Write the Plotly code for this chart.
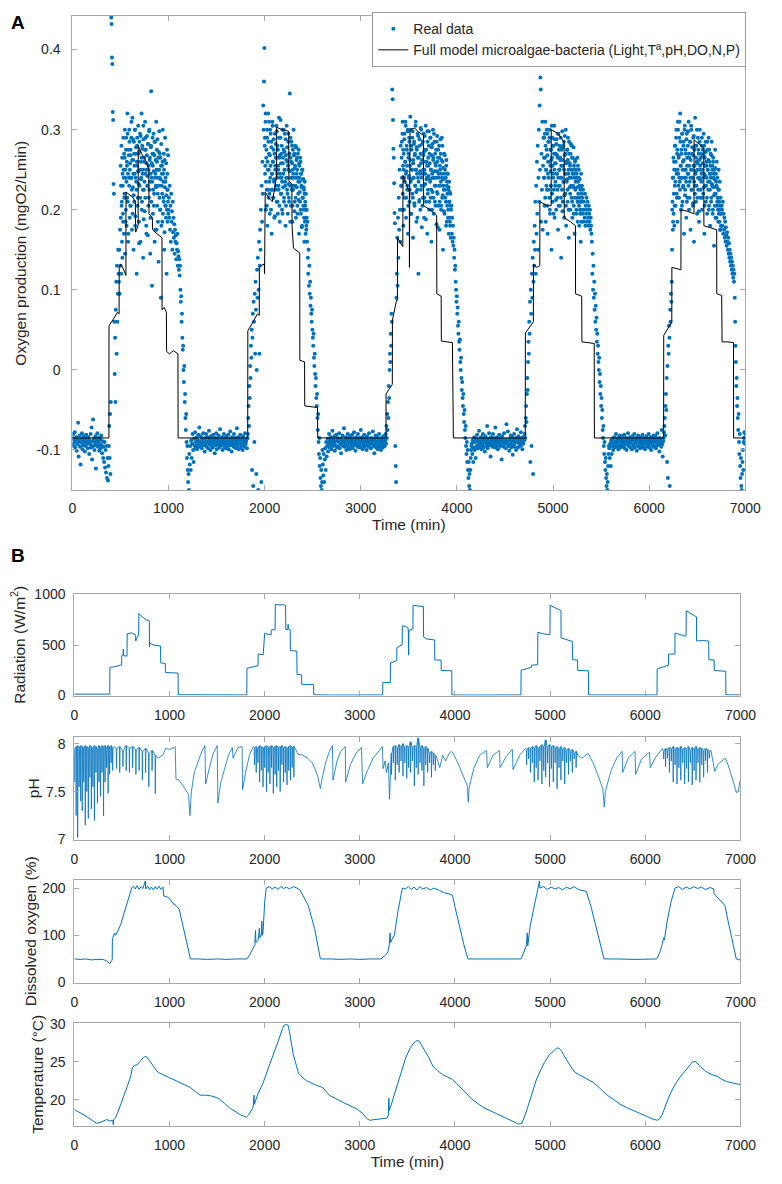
import plotly.graph_objects as go

# ---------------------------------------------------------------------------
# Panel A - measured oxygen production, in thousandths of mgO2/Lmin.
# Each block is sampled on a regular grid: (start minute, step in minutes).
# ---------------------------------------------------------------------------
night0_grid = (0, 5)
night0_real = [
    -85, -92, -80, -95, -88, -78, -97, -90, -84, -101,
    -87, -93, -66, -108, -89, -82, -96, -118, -86, -91,
    -79, -99, -88, -94, -83, -90, -102, -87, -95, -81,
    -92, -89, -98, -84, -91, -105, -88, -93, -80, -97,
    -72, -112, -89, -62, -95, -86, -100, -91, -83, -123,
    -94, -88, -79, -96, -90, -85, -101, -93, -87, -98,
    -82, -94, -104, -89, -110, -96, -115, -90, -122, -100,
    -128, -95, -135, -110, -138, -120,
]

day1_grid = (380, 4)
day1_real = [
    -95, -70, -110, -55, -130, -40, 440, 432, 390, 382, 322, 312, 232, 220, 60, -5,
    40, -40, 75, 110, 20, 130, 60, 95, 150, 120,
    110, 150, 95, 175, 130, 190, 120, 205, 160, 140, 230, 185, 250, 170, 215,
    265, 145, 240, 200, 290, 180, 255, 320, 210, 160, 275, 240, 300, 190, 258,
    268, 205, 290, 240, 175, 315, 228, 262, 150, 285,
    210, 245, 300, 192, 270, 235, 120, 280, 255, 215,
    305, 248, 185, 272, 230, 295, 160, 260, 240, 320,
    210, 276, 250, 140, 288, 225, 265, 198, 310, 245,
    275, 180, 258, 292, 230, 168, 282, 250, 215, 300,
    262, 235, 190, 278, 348, 240, 105, 270, 255, 225,
    295, 205, 268, 160, 285, 245, 230, 310, 175, 260,
    288, 220, 250, 135, 272, 298, 240, 200, 265, 90,
    282, 230, 255, 185, 300, 245, 215, 270, 150, 262,
    290, 235, 205, 258, 120, 275, 245, 225, 268, 200,
    215, 190, 230, 175, 205, 160, 220, 185, 198, 150, 210, 172, 190, 165, 182,
    145, 175, 160, 168, 138, 158, 150, 170, 130, 148, 142, 125, 138, 118, 130,
    100, 85, 92, 60, 70, 40, 25, 30, 0, -15, 5, -40, -30, -60, -75, -55,
    -90, -110, -95, -125, -140, -130, -150,
]
day1_extra_grid = (502, 4)
day1_extra = [
    255, 230, 280, 210, 265, 245, 195, 290, 240, 270,
    220, 300, 250, 185, 275, 235, 260, 215, 295, 245,
    170, 268, 230, 285, 250, 205, 275, 240, 310, 225,
    262, 195, 288, 245, 218, 270, 255, 300, 180, 240,
    278, 225, 260, 290, 205, 248, 270, 232, 158, 285,
    250, 215, 292, 238, 265, 200, 280, 245, 225, 305,
    188, 260, 235, 275, 215, 290, 250, 170, 268, 242,
    230, 282, 205, 255, 298, 225, 265, 145, 245, 280,
    210, 258, 235, 290, 195, 270, 248, 220, 285, 240,
    175, 262, 228, 250, 275, 205, 240, 185, 265, 230,
    250, 215, 270, 200, 238, 255, 180, 245, 220, 260,
    195, 235, 210, 250, 172, 228, 205, 240, 190, 218,
    200, 225, 185, 210, 195,
]

night1_grid = (1216, 5)
night1_real = [
    -105, -118, -95, -125, -88, -110, -92, -80, -100, -115,
    -86, -94, -78, -97, -90, -84, -99, -88, -93, -81,
    -96, -72, -89, -95, -83, -91, -98, -86, -90, -79,
    -94, -87, -102, -85, -92, -80, -96, -89, -84, -98,
    -91, -76, -93, -87, -100, -83, -95, -90, -86, -97,
    -81, -92, -88, -104, -85, -94, -79, -99, -90, -86,
    -93, -82, -97, -89, -74, -95, -88, -91, -84, -100,
    -87, -93, -80, -96, -90, -85, -98, -83, -92, -88,
    -95, -81, -99, -86, -91, -77, -94, -89, -102, -84,
    -92, -87, -96, -80, -93, -90, -85, -98, -88, -73,
    -95, -91, -84, -99, -87, -92, -81, -97, -89, -94,
    -86, -100, -83, -91, -88, -96, -79, -93, -90, -87,
    -98, -85,
]

day2_grid = (1825, 4)
day2_real = [
    -80, -60, -45, -70, -20, -35, 5, -10, 30, 15, 50, -125, 40, 70, -145, 85, 60, -90,
    95, 20, 110, 75, -130, 0, 125, 90, 140, -150, 100, 160, 20, 130, 175, 150,
    200, -140, 230, 185, 260, 220, 330, 300, 360,
    402, 280, 245, 310, 200, 265, 225, 290, 180, 250,
    320, 215, 270, 235, 195, 300, 255, 225, 285, 170,
    245, 310, 260, 215, 275, 235, 190, 295, 250, 225,
    265, 305, 210, 240, 280, 195, 255, 230, 315, 265,
    185, 245, 290, 220, 270, 240, 200, 300, 258, 228,
    275, 210, 250, 295, 235, 180, 268, 240, 305, 225,
    260, 195, 285, 250, 215, 270, 345, 230, 290, 205,
    260, 240, 280, 185, 250, 225, 300, 240, 270, 210,
    255, 230, 190, 278, 245, 265, 205, 240, 220, 275,
    170, 255, 235, 210, 260, 195, 245, 228, 180, 250,
    215, 238, 200, 225, 160, 235, 205, 190, 220, 175,
    200, 160, 185, 140, 120, 150, 105, 130, 95, 110, 80, 90, 70, 60, 75, 50,
    40, 30, 45, 15, 5, 20, -5, -20, -10, -35, -45, -30, -60, -75, -55, -90,
    -105, -85, -120, -110, -135, -145, -125, -150, -140, -100,
]
day2_extra_grid = (2002, 4)
day2_extra = [
    290, 255, 320, 235, 275, 205, 300, 260, 225, 285,
    250, 310, 220, 268, 240, 295, 200, 278, 245, 225,
    305, 260, 215, 288, 238, 270, 192, 255, 282, 230,
    265, 298, 245, 210, 275, 250, 225, 290, 205, 268,
    240, 312, 258, 220, 280, 235, 195, 265, 245, 300,
    215, 272, 250, 230, 288, 205, 262, 240, 278, 220,
    255, 295, 232, 210, 270, 248, 185, 265, 240, 285,
    225, 258, 205, 275, 245, 230, 268, 198, 252, 280,
    215, 240, 262, 228, 250, 195, 270, 235, 212, 258,
    240, 222, 265, 200, 245, 230, 178, 250, 215, 238,
    205, 228, 190, 220, 185, 210, 170, 200, 180, 190,
]

night2_grid = (2605, 5)
night2_real = [
    -118, -132, -105, -140, -112, -98, -125, -90, -108, -95,
    -86, -102, -91, -80, -97, -88, -93, -84, -99, -90,
    -76, -95, -87, -92, -83, -101, -89, -94, -81, -97,
    -88, -85, -96, -90, -79, -98, -86, -93, -104, -87,
    -91, -82, -95, -89, -73, -96, -88, -92, -84, -100,
    -87, -94, -80, -97, -90, -86, -99, -83, -92, -88,
    -95, -81, -98, -86, -91, -78, -94, -89, -101, -84,
    -92, -87, -96, -80, -93, -90, -85, -97, -88, -75,
    -95, -91, -84, -99, -87, -92, -81, -96, -89, -94,
    -86, -100, -83, -91, -88, -96, -79, -93, -90, -87,
    -98, -85, -92, -89, -77, -95, -88, -104, -86, -93,
    -82, -97, -90, -84, -99, -88, -94, -80, -96, -91,
    -87, -100, -85, -93, -89, -97, -83, -92, -88, -95,
]

day3_grid = (3255, 4)
day3_real = [
    -88, -80, -92, -70, -85, -55, -75, -40, -60, -20, -35, 0, 20, 10, 45, 30, 70, 60,
    350, 338, 312, 276, 265, 233, 196, 183, -95, -120, -140, 90,
    120, 165, 105, 190, 140, 215, 175, 250, 200, 160, 280, 230,
    230, 285, 200, 310, 255, 180, 270, 240, 295, 215,
    260, 305, 190, 248, 275, 225, 300, 170, 265, 240,
    290, 210, 255, 316, 235, 195, 280, 250, 220, 298,
    165, 262, 240, 285, 205, 270, 230, 310, 250, 185,
    275, 225, 295, 240, 120, 265, 210, 288, 245, 200,
    302, 258, 230, 178, 282, 245, 215, 268, 295, 190,
    250, 275, 232, 305, 210, 260, 240, 170, 285, 225,
    255, 298, 200, 270, 238, 290, 215, 250, 160, 278,
    245, 222, 300, 265, 195, 240, 285, 210, 258, 230,
    275, 182, 248, 292, 220, 265, 205, 240, 280, 175,
    255, 230, 270, 200, 245, 290, 215, 260, 150, 238,
    225, 270, 195, 250, 215, 240, 180, 262, 230, 205,
    245, 190, 225, 170, 235, 210, 185, 220, 165, 200,
    205, 170, 190, 160, 180, 155, 165, 140, 150, 125, 130, 110,
    100, 85, 92, 70, 78, 55, 45, 60, 35, 25, 38, 10, 0, 15, -10, -25,
    -15, -35, -45, -30, -55, -65, -50, -75, -85, -70, -95, -105, -90, -115,
    -100, -125, -135, -115, -145, -130, -150, -125, -110, -100, -95,
]
day3_extra_grid = (3425, 4)
day3_extra = [
    265, 240, 295, 220, 275, 250, 200, 288, 235, 260,
    310, 245, 215, 280, 255, 230, 298, 205, 270, 242,
    285, 225, 262, 300, 238, 195, 275, 250, 290, 215,
    258, 240, 282, 208, 268, 230, 305, 250, 222, 278,
    245, 190, 265, 292, 235, 255, 212, 280, 248, 270,
    225, 300, 240, 262, 205, 285, 250, 230, 272, 215,
    292, 245, 260, 188, 275, 238, 255, 298, 220, 265,
    242, 280, 210, 258, 235, 290, 250, 225, 268, 200,
    282, 240, 262, 215, 295, 248, 230, 270, 205, 255,
    240, 285, 222, 260, 178, 275, 245, 230, 265, 210,
    250, 288, 235, 205, 262, 240, 280, 218, 252, 230,
    198, 245, 268, 225, 240, 210, 255, 185, 235, 220,
    245, 200, 228, 210, 190, 222, 180, 205,
]

night3_grid = (4155, 5)
night3_real = [
    -92, -105, -88, -115, -97, -84, -100, -90, -110, -86,
    -95, -81, -98, -89, -93, -76, -96, -87, -91, -84,
    -99, -88, -94, -80, -97, -90, -86, -102, -83, -92,
    -88, -95, -70, -98, -86, -91, -79, -94, -89, -108,
    -84, -92, -87, -96, -80, -93, -90, -85, -97, -72,
    -88, -95, -91, -84, -99, -87, -92, -81, -96, -89,
    -94, -86, -112, -83, -91, -88, -96, -79, -93, -90,
    -87, -98, -68, -92, -89, -77, -95, -88, -101, -86,
    -93, -82, -97, -90, -84, -106, -88, -94, -80, -96,
    -91, -87, -100, -85, -74, -89, -97, -83, -92, -88,
    -95, -86, -78, -94, -90, -99, -84, -92, -87,
]

day4_grid = (4700, 4)
day4_real = [
    -88, -80, -70, -85, -60, -45, -65, -30, -10, -25, 10, 35, 20, 60, 45, 85,
    -115, 100, 70, -95, 120, 90, 140, -130, 110, 160,
    130, 180, 150, 210, 120, 230, 170, 260, 195, 280, 150, 240, 300,
    210, 330, 250, 365, 350, 185, 270, 225, 310, 175, 255, 290,
    240, 290, 205, 265, 310, 185, 250, 275, 225, 295,
    170, 260, 240, 285, 215, 300, 195, 255, 230, 275,
    150, 265, 290, 210, 245, 280, 225, 305, 190, 258,
    235, 270, 200, 288, 245, 215, 265, 175, 295, 230,
    250, 280, 205, 262, 240, 140, 275, 225, 298, 210,
    255, 235, 285, 190, 268, 245, 220, 300, 180, 260,
    238, 275, 210, 290, 250, 165, 270, 228, 255, 200,
    282, 240, 215, 265, 190, 250, 230, 278, 205, 245,
    170, 260, 225, 250, 195, 240, 215, 265, 185, 235,
    210, 250, 180, 238, 200, 225, 160, 245, 210, 230,
    215, 195, 225, 185, 210, 200, 190, 220, 180, 205, 195, 215, 185,
    200, 210, 190, 180, 205, 195, 185, 200, 175, 190, 180, 170,
    160, 120, 145, 100, 130, 90, 110, 75, 95, 60, 80, 50, 65, 35, 45,
    20, 30, 10, 0, 15, -15, -5, -30, -20, -45, -35, -60, -50, -75, -85,
    -70, -95, -105, -90, -115, -125, -110, -135, -145, -130, -150, -140, -120, -105, -95,
]
day4_extra_grid = (4906, 4)
day4_extra = [
    265, 240, 295, 215, 280, 250, 230, 300, 205, 268,
    245, 285, 225, 260, 290, 200, 275, 248, 230, 262,
    305, 220, 255, 280, 240, 195, 270, 250, 288, 230,
    258, 212, 282, 245, 268, 225, 295, 240, 205, 275,
    250, 230, 265, 290, 215, 255, 240, 278, 198, 262,
    280, 235, 250, 218, 292, 245, 270, 205, 258, 235,
    275, 225, 262, 245, 200, 285, 240, 258, 220, 270,
    230, 250, 280, 210, 245, 265, 228, 195, 255, 240,
    215, 262, 235, 250, 200, 245, 228, 210, 255, 220,
    240, 205, 230, 215, 195, 228, 210, 185, 220, 200,
]

night4_grid = (5585, 5)
night4_real = [
    -98, -110, -92, -120, -88, -105, -95, -86, -100, -91,
    -84, -97, -89, -93, -80, -96, -88, -91, -85, -99,
    -87, -94, -82, -97, -90, -86, -95, -83, -92, -88,
    -96, -81, -98, -89, -93, -85, -100, -87, -91, -79,
    -95, -88, -92, -84, -97, -90, -86, -99, -83, -93,
    -88, -95, -80, -97, -89, -91, -85, -101, -87, -94,
    -82, -96, -90, -86, -98, -84, -92, -88, -95, -81,
    -97, -89, -93, -85, -99, -87, -91, -83, -96, -90,
    -86, -94, -80, -97, -88, -92, -84, -100, -89, -93,
    -85, -96, -82, -90, -87, -95, -83, -98, -88, -91,
    -79, -94, -90, -86, -102, -85, -92, -88, -96, -75,
    -93, -108, -89,
]

day5_grid = (6150, 4)
day5_real = [
    -85, -78, -70, -60, -82, -45, -30, -50, -10, -115, 5, -135, 30, 20, 55,
    40, -145, 75, 60, 95, 85, 110,
    150, 210, 175, 240, 195, 260, 180, 230, 280, 205,
    250, 300, 220, 270, 185, 310, 245, 265, 215, 290,
    235, 320, 255, 200, 275, 240, 295, 210, 260, 230,
    285, 170, 250, 305, 225, 270, 240, 190, 295, 255,
    215, 280, 245, 310, 200, 265, 235, 285, 175, 250,
    300, 225, 270, 240, 205, 290, 255, 160, 275, 230,
    315, 245, 210, 280, 260, 195, 250, 290, 225, 270,
    185, 240, 300, 255, 215, 265, 235, 280, 200, 250,
    275, 220, 295, 245, 170, 265, 230, 285, 210, 255,
    240, 195, 275, 250, 225, 290, 205, 260, 235, 180,
    270, 245, 215, 285, 230, 255, 200, 265, 240, 155,
    250, 220, 275, 190, 245, 230, 260, 205, 240, 215,
    185, 250, 225, 200, 235, 175, 215, 195, 180, 205,
    200, 180, 210, 170, 195, 175, 190, 165, 185, 160, 178, 168, 155, 172, 160,
    150, 165, 145, 158, 140, 150, 135, 145, 130, 140, 125, 135, 120, 130, 115,
    125, 110, 120,
    90, 60, 30, 10, -20, -10, -45, -35, -60, -75, -55, -90, -105, -80, -120,
    -135, -110, -145, -150, -130, -115, -100, -125, -90, -85, -78, -92, -80,
]
day5_extra_grid = (6240, 4)
day5_extra = [
    200, 240, 185, 265, 220, 250, 205, 280, 235, 260,
    290, 245, 215, 275, 250, 300, 230, 268, 240, 310,
    225, 285, 255, 240, 270, 205, 295, 250, 228, 280,
    262, 240, 300, 218, 275, 250, 235, 288, 210, 265,
    245, 298, 230, 270, 255, 215, 285, 240, 262, 305,
    225, 250, 278, 240, 208, 268, 292, 235, 255, 220,
    280, 248, 265, 230, 300, 215, 258, 240, 275, 198,
    262, 285, 238, 250, 225, 270, 245, 290, 215, 258,
    240, 268, 228, 280, 205, 255, 242, 272, 230, 260,
    215, 285, 250, 235, 262, 200, 275, 245, 225, 255,
    240, 210, 268, 232, 250, 195, 260, 228, 245, 218,
    238, 205, 252, 220, 235, 190, 228, 210, 215, 200,
    225, 195, 210, 185, 205, 175, 195, 180,
]

# Model output (mgO2/Lmin): breakpoints (minute, value)
model_day1 = [
    (0, -0.085), (380, -0.085), (381, 0.055), (410, 0.06), (440, 0.066), (470, 0.072),
    (486, 0.07), (487, 0.128), (505, 0.132), (530, 0.126), (557, 0.118), (558, 0.222),
    (590, 0.219), (625, 0.216), (655, 0.21), (658, 0.172), (684, 0.18), (685, 0.28),
    (720, 0.27), (760, 0.262), (795, 0.25), (797, 0.195), (832, 0.19), (834, 0.175),
    (860, 0.172), (900, 0.168), (932, 0.165), (933, 0.075), (955, 0.078), (978, 0.072),
    (980, 0.023), (1010, 0.02), (1050, 0.024), (1098, 0.02), (1100, -0.085),
]
model_day2 = [
    (1824, -0.085), (1825, 0.049), (1870, 0.058), (1925, 0.07), (1944, 0.068),
    (1945, 0.128), (1970, 0.131), (1996, 0.132), (1999, 0.12), (2006, 0.222),
    (2040, 0.215), (2080, 0.21), (2115, 0.235), (2124, 0.24), (2125, 0.303),
    (2180, 0.3), (2250, 0.298), (2252, 0.236), (2283, 0.232), (2285, 0.18),
    (2300, 0.152), (2340, 0.148), (2365, 0.146), (2366, 0.012), (2415, 0.01),
    (2417, -0.045), (2480, -0.046), (2550, -0.047), (2552, -0.085),
]
model_day3 = [
    (3262, -0.085), (3263, -0.03), (3300, -0.024), (3328, -0.018), (3329, 0.062),
    (3372, 0.087), (3381, 0.087), (3382, 0.165), (3437, 0.154), (3439, 0.243),
    (3505, 0.222), (3506, 0.128), (3512, 0.3), (3560, 0.302), (3600, 0.297),
    (3652, 0.293), (3654, 0.205), (3720, 0.2), (3789, 0.193), (3791, 0.095),
    (3836, 0.092), (3838, 0.036), (3900, 0.035), (3953, 0.034), (3963, -0.085),
]
model_day4 = [
    (4711, -0.085), (4712, 0.046), (4760, 0.055), (4795, 0.06), (4796, 0.132),
    (4830, 0.128), (4862, 0.13), (4863, 0.21), (4940, 0.205), (4980, 0.205),
    (4981, 0.3), (5050, 0.295), (5115, 0.285), (5116, 0.19), (5180, 0.185),
    (5233, 0.18), (5234, 0.095), (5298, 0.092), (5300, 0.035), (5360, 0.034),
    (5428, 0.033), (5430, -0.085),
]
model_day5 = [
    (6150, -0.085), (6151, 0.043), (6200, 0.052), (6235, 0.06), (6236, 0.128),
    (6285, 0.126), (6330, 0.125), (6331, 0.2), (6400, 0.198), (6466, 0.195),
    (6467, 0.287), (6520, 0.282), (6568, 0.277), (6569, 0.18), (6630, 0.178),
    (6702, 0.175), (6703, 0.095), (6754, 0.093), (6758, 0.035), (6820, 0.035),
    (6877, 0.034), (6878, -0.085), (7000, -0.085),
]

# ---------------------------------------------------------------------------
# Panel B - environmental variables, breakpoints (minute, value)
# ---------------------------------------------------------------------------
radiation = [
    (0, 14), (100, 16), (200, 13), (300, 15), (372, 14), (374, 280), (420, 285),
    (485, 300), (497, 300), (499, 395), (512, 400), (515, 460), (518, 395), (553, 390),
    (556, 612), (600, 620), (644, 600), (646, 540), (652, 560), (676, 600), (678, 812),
    (700, 790), (729, 765), (760, 745), (780, 748), (788, 740), (790, 480), (792, 520),
    (830, 500), (870, 495), (906, 490), (908, 322), (956, 318), (958, 228), (1020, 225),
    (1090, 222), (1092, 8), (1300, 6), (1500, 5), (1700, 7), (1812, 6),
    (1814, 270), (1860, 280), (1898, 290), (1930, 295), (1932, 410), (1983, 400),
    (1985, 405), (2000, 615), (2040, 605), (2068, 600), (2070, 648), (2100, 655),
    (2110, 652), (2112, 903), (2160, 895), (2190, 900), (2220, 890), (2222, 655),
    (2244, 650), (2246, 705), (2250, 660), (2268, 650), (2270, 445), (2338, 440),
    (2340, 208), (2388, 205), (2390, 112), (2514, 108), (2516, 8), (2700, 5),
    (2900, 6), (3100, 5), (3240, 6),
    (3242, 130), (3300, 132), (3320, 130), (3322, 322), (3380, 342), (3388, 345),
    (3390, 474), (3430, 500), (3445, 505), (3447, 690), (3480, 685), (3505, 672),
    (3510, 640), (3513, 400), (3516, 640), (3530, 650), (3558, 660), (3560, 893),
    (3620, 885), (3668, 880), (3670, 580), (3700, 560), (3786, 550), (3788, 352),
    (3854, 350), (3856, 248), (3966, 245), (3968, 6), (4200, 5), (4400, 6),
    (4600, 5), (4693, 6),
    (4695, 250), (4760, 270), (4803, 280), (4805, 300), (4869, 305), (4871, 626),
    (4930, 610), (4990, 603), (4998, 605), (5000, 893), (5050, 870), (5108, 845),
    (5114, 840), (5115, 571), (5170, 555), (5227, 539), (5233, 535), (5234, 355),
    (5288, 352), (5290, 248), (5402, 245), (5404, 6), (5600, 5), (5800, 6),
    (6000, 5), (6123, 6),
    (6125, 264), (6180, 280), (6237, 297), (6243, 300), (6244, 410), (6305, 408),
    (6311, 410), (6312, 619), (6370, 600), (6420, 587), (6428, 590), (6430, 839),
    (6480, 810), (6532, 781), (6538, 778), (6539, 539), (6600, 545), (6658, 540),
    (6666, 538), (6668, 355), (6719, 352), (6723, 350), (6725, 248), (6837, 245),
    (6845, 240), (6847, 8), (6920, 5), (7000, 6),
]

# pH: daytime downward spikes (CO2 dosing), alternating peak / trough values,
# one spike per period: ((first peak minute, period), values)
ph_teeth_day1 = ((0, 16), [
    7.95, 7.6, 7.97, 7.25, 7.98, 7.02, 7.96, 7.55, 7.98, 7.4, 7.97, 7.3, 7.96, 7.6,
    7.98, 7.15, 7.97, 7.5, 7.95, 7.22, 7.98, 7.65, 7.97, 7.32, 7.96, 7.55, 7.98, 7.2,
    7.97, 7.7, 7.95, 7.38, 7.98, 7.6, 7.96, 7.45, 7.98, 7.7, 7.97, 7.25, 7.98, 7.6,
    7.95, 7.75, 7.98, 7.48, 7.97, 7.68, 7.98, 7.8, 7.96, 7.72, 7.97,
])
ph_teeth_day1b = ((440, 34), [
    7.95, 7.74, 7.97, 7.7, 7.93, 7.76, 7.98, 7.72, 7.95, 7.7, 7.97, 7.75, 7.94, 7.68,
    7.96, 7.72, 7.92, 7.62, 7.95, 7.7, 7.9, 7.55, 7.93, 7.72, 7.88, 7.48, 7.85,
])
ph_teeth_day2 = ((1890, 18), [
    7.96, 7.78, 7.97, 7.7, 7.95, 7.8, 7.98, 7.6, 7.97, 7.72, 7.96, 7.55, 7.97, 7.75,
    7.98, 7.5, 7.96, 7.7, 7.97, 7.58, 7.98, 7.75, 7.96, 7.48, 7.97, 7.68, 7.98, 7.55,
    7.96, 7.72, 7.97, 7.5, 7.98, 7.78, 7.96, 7.6, 7.97, 7.7, 7.95, 7.57, 7.97, 7.72,
    7.98, 7.62, 7.96, 7.75, 7.97, 7.65, 7.95,
])
ph_teeth_day3 = ((3330, 20), [
    7.9, 7.68, 7.97, 7.8, 7.98, 7.62, 7.96, 7.78, 7.99, 7.7, 7.97, 7.82, 8.0, 7.66,
    7.96, 7.8, 7.98, 7.64, 7.97, 7.75, 8.02, 7.7, 7.96, 7.82, 7.98, 7.56, 7.97, 7.75,
    8.06, 7.68, 7.96, 7.8, 7.98, 7.72, 7.95, 7.56, 7.97, 7.78, 7.95, 7.7, 7.9, 7.8,
    7.92, 7.65, 7.9, 7.78, 7.88, 7.72, 7.85,
])
ph_teeth_day4 = ((4750, 20), [
    7.94, 7.78, 7.96, 7.84, 7.95, 7.7, 7.97, 7.8, 7.96, 7.6, 7.98, 7.75, 7.95, 7.62,
    7.97, 7.82, 7.99, 7.58, 7.97, 7.72, 8.04, 7.65, 7.96, 7.8, 7.99, 7.55, 7.97, 7.74,
    7.98, 7.6, 7.96, 7.8, 7.97, 7.53, 7.95, 7.75, 7.97, 7.62, 7.94, 7.82, 7.96, 7.58,
    7.93, 7.8, 7.95, 7.68, 7.92, 7.82, 7.94, 7.7, 7.9, 7.84, 7.92, 7.75, 7.88,
])
ph_teeth_day5 = ((6190, 20), [
    7.92, 7.84, 7.95, 7.76, 7.94, 7.85, 7.96, 7.7, 7.95, 7.82, 7.97, 7.6, 7.94, 7.78,
    7.96, 7.58, 7.95, 7.75, 7.97, 7.62, 7.94, 7.8, 7.96, 7.58, 7.95, 7.74, 7.97, 7.6,
    7.93, 7.8, 7.96, 7.57, 7.95, 7.72, 7.97, 7.62, 7.94, 7.8, 7.96, 7.6, 7.95, 7.78,
    7.93, 7.65, 7.95, 7.82, 7.94, 7.7, 7.92, 7.85, 7.93,
])
ph_drop_minutes = 3
ph_recover_minutes = 7
# ... and the slower night-time saw-tooth, as breakpoints
ph_slow = [
    (930, 7.88), (960, 7.95), (1000, 7.94), (1050, 7.96), (1060, 7.97), (1068, 7.63),
    (1100, 7.62), (1150, 7.55), (1200, 7.47), (1215, 7.25), (1230, 7.5), (1260, 7.7),
    (1300, 7.82), (1340, 7.92), (1372, 7.98), (1380, 7.58), (1420, 7.75), (1460, 7.9),
    (1502, 7.98), (1508, 7.38), (1540, 7.6), (1580, 7.75), (1620, 7.88), (1660, 7.96),
    (1668, 7.85), (1700, 7.92), (1720, 7.96), (1763, 7.97), (1768, 7.52), (1800, 7.7),
    (1840, 7.88), (1880, 7.97),
    (2350, 7.89), (2400, 7.88), (2450, 7.85), (2500, 7.8), (2525, 7.75), (2560, 7.65),
    (2586, 7.53), (2600, 7.62), (2640, 7.8), (2680, 7.92), (2712, 7.98), (2718, 7.62),
    (2760, 7.82), (2800, 7.92), (2847, 7.97), (2852, 7.6), (2900, 7.78), (2960, 7.9),
    (3017, 7.96), (3030, 7.58), (3080, 7.72), (3140, 7.85), (3200, 7.93), (3237, 7.97),
    (3245, 7.74), (3265, 7.82), (3280, 7.7), (3300, 7.8), (3312, 7.42), (3322, 7.7),
    (3840, 7.75), (3870, 7.88), (3900, 7.82), (3940, 7.9), (3960, 7.92), (3980, 7.9),
    (4030, 7.8), (4080, 7.68), (4130, 7.56), (4139, 7.39), (4150, 7.55), (4200, 7.75),
    (4260, 7.88), (4332, 7.93), (4340, 7.75), (4400, 7.88), (4468, 7.93), (4474, 7.75),
    (4540, 7.87), (4603, 7.94), (4610, 7.73), (4680, 7.88), (4739, 7.95),
    (5330, 7.85), (5350, 7.86), (5400, 7.9), (5450, 7.8), (5500, 7.68), (5553, 7.53),
    (5569, 7.34), (5580, 7.5), (5640, 7.72), (5700, 7.85), (5756, 7.92), (5762, 7.7),
    (5820, 7.85), (5892, 7.92), (5898, 7.68), (5960, 7.84), (6044, 7.91), (6052, 7.75),
    (6110, 7.86), (6180, 7.95),
    (6730, 7.71), (6760, 7.78), (6800, 7.82), (6841, 7.85), (6870, 7.78), (6920, 7.62),
    (6959, 7.49), (6975, 7.5), (7000, 7.63),
]

dissolved_oxygen = [
    (0, 50), (60, 49), (120, 50), (180, 48), (240, 49), (300, 49), (340, 46), (373, 40),
    (385, 44), (398, 48), (400, 93), (412, 98), (424, 105), (432, 100), (440, 102),
    (460, 110), (491, 125), (520, 145), (542, 160), (560, 172), (576, 180), (590, 192),
    (603, 200), (620, 204), (640, 198), (660, 205), (680, 197), (700, 203), (720, 199),
    (746, 215), (750, 198), (770, 204), (790, 197), (810, 202), (830, 196), (850, 203),
    (870, 198), (890, 204), (910, 197), (932, 202), (934, 190), (939, 183), (970, 182),
    (1000, 178), (1035, 168), (1068, 163), (1102, 155), (1130, 130), (1160, 100),
    (1190, 75), (1220, 50), (1300, 50), (1400, 49), (1500, 50), (1600, 49), (1700, 50),
    (1814, 50), (1840, 58), (1870, 68), (1898, 80), (1900, 95), (1904, 110), (1908, 85),
    (1920, 88), (1932, 90), (1945, 115), (1950, 95), (1960, 100), (1966, 100),
    (1970, 130), (1976, 100), (1983, 105), (1990, 145), (2000, 170), (2017, 200),
    (2050, 203), (2080, 198), (2110, 202), (2140, 197), (2170, 203), (2200, 199),
    (2230, 202), (2260, 198), (2300, 203), (2339, 200), (2373, 195), (2400, 185),
    (2458, 163), (2525, 114), (2555, 85), (2586, 50), (2700, 50), (2800, 49),
    (2900, 50), (3000, 49), (3100, 50), (3220, 50), (3271, 58), (3295, 65), (3310, 80),
    (3318, 105), (3322, 85), (3330, 88), (3363, 100), (3400, 150), (3430, 185),
    (3447, 200), (3480, 198), (3510, 203), (3540, 197), (3570, 202), (3600, 196),
    (3630, 203), (3660, 198), (3700, 201), (3740, 196), (3780, 200), (3837, 195),
    (3888, 190), (3930, 188), (3973, 185), (4000, 160), (4050, 115), (4100, 75),
    (4136, 50), (4300, 50), (4500, 49), (4695, 50), (4720, 62), (4752, 80), (4759, 105),
    (4765, 78), (4790, 120), (4830, 160), (4870, 195), (4888, 215), (4892, 200),
    (4930, 203), (4970, 197), (5010, 202), (5050, 198), (5090, 201), (5130, 196),
    (5170, 202), (5210, 198), (5250, 203), (5295, 197), (5380, 193), (5430, 160),
    (5480, 120), (5530, 80), (5566, 50), (5700, 50), (5900, 49), (6119, 50),
    (6150, 62), (6176, 80), (6193, 95), (6200, 90), (6230, 130), (6270, 170),
    (6312, 200), (6350, 203), (6390, 197), (6430, 202), (6470, 198), (6510, 203),
    (6550, 199), (6590, 202), (6630, 197), (6680, 201), (6719, 198), (6722, 188),
    (6736, 185), (6790, 175), (6837, 163), (6870, 130), (6920, 85), (6956, 50),
    (6983, 48), (7000, 49),
]

temperature = [
    (0, 18.7), (50, 18.4), (102, 18.0), (150, 17.6), (200, 17.2), (235, 16.9),
    (270, 17.0), (300, 17.2), (340, 17.4), (375, 17.2), (405, 17.3), (410, 16.7),
    (412, 17.4), (432, 17.6), (450, 18.1), (491, 19.5), (525, 20.6), (560, 21.9),
    (590, 23.0), (610, 24.2), (630, 24.5), (661, 24.6), (700, 25.2), (729, 25.6),
    (747, 25.7), (763, 25.6), (800, 25.0), (830, 24.4), (881, 23.6), (940, 23.2),
    (1000, 22.9), (1070, 22.5), (1136, 22.1), (1180, 21.9), (1220, 21.6), (1270, 21.1),
    (1322, 20.6), (1380, 20.6), (1441, 20.5), (1490, 20.3), (1525, 20.1), (1580, 19.5),
    (1644, 18.8), (1700, 18.4), (1746, 18.0), (1807, 17.7), (1831, 18.0), (1870, 18.8),
    (1881, 19.2), (1888, 20.6), (1892, 19.4), (1930, 20.8), (1983, 22.2), (2020, 23.5),
    (2051, 24.5), (2090, 25.9), (2136, 27.5), (2186, 29.3), (2203, 29.8), (2230, 29.9),
    (2247, 29.8), (2260, 29.0), (2271, 28.0), (2300, 26.0), (2322, 25.0), (2356, 23.5),
    (2400, 22.9), (2441, 22.5), (2525, 22.0), (2580, 21.8), (2610, 21.6), (2678, 20.6),
    (2750, 20.1), (2830, 19.6), (2900, 19.2), (2966, 18.8), (3030, 18.2), (3068, 17.6),
    (3102, 17.3), (3150, 17.4), (3237, 17.5), (3288, 17.6), (3300, 18.0), (3305, 20.2),
    (3310, 18.6), (3322, 19.0), (3360, 20.6), (3397, 22.0), (3440, 23.8), (3481, 25.5),
    (3532, 26.9), (3570, 27.5), (3600, 27.8), (3625, 27.7), (3651, 27.2), (3690, 26.3),
    (3719, 25.7), (3769, 24.4), (3820, 23.8), (3871, 23.3), (3920, 23.0), (3973, 22.7),
    (4020, 22.1), (4075, 21.4), (4130, 20.8), (4176, 20.1), (4250, 19.4), (4312, 18.9),
    (4380, 18.5), (4447, 18.1), (4520, 17.6), (4583, 17.2), (4640, 16.9), (4668, 16.8),
    (4702, 16.9), (4735, 17.9), (4769, 19.2), (4810, 20.8), (4854, 22.6), (4900, 23.9),
    (4939, 24.9), (4990, 25.9), (5041, 26.5), (5070, 26.8), (5092, 26.8), (5120, 26.4),
    (5142, 25.9), (5193, 24.8), (5230, 24.1), (5261, 23.6), (5330, 23.1), (5397, 22.7),
    (5450, 22.3), (5498, 21.8), (5550, 21.2), (5600, 20.6), (5670, 20.0), (5736, 19.4),
    (5800, 19.0), (5871, 18.6), (5940, 18.2), (6007, 17.8), (6070, 17.5), (6125, 17.3),
    (6150, 17.5), (6176, 18.0), (6200, 18.9), (6227, 19.7), (6270, 21.0), (6312, 22.0),
    (6360, 22.9), (6414, 23.7), (6460, 24.5), (6498, 25.0), (6532, 25.0), (6560, 24.6),
    (6583, 24.3), (6620, 23.9), (6651, 23.6), (6700, 23.3), (6753, 23.1), (6800, 22.7),
    (6854, 22.4), (6920, 22.2), (6983, 22.0), (7000, 22.0),
]

time_ticks = [0, 1000, 2000, 3000, 4000, 5000, 6000, 7000]
oxygen_ticks = [-0.1, 0, 0.1, 0.2, 0.3, 0.4]
oxygen_labels = ["-0.1", "0", "0.1", "0.2", "0.3", "0.4"]

BLUE = "#0072BD"
AXIS_GRAY = "#a8a8a8"
TEXT = "#262626"
FONT = "Liberation Sans, Arial, Helvetica, sans-serif"

# the page body keeps the browser's 8px margin, so the figure is drawn 16px
# smaller than the 782x1184 window and every page position is shifted by 8px
PAGE_PAD = 8
FIG_W, FIG_H = 782 - 2 * PAGE_PAD, 1184 - 2 * PAGE_PAD


def px(x):
    return (x - PAGE_PAD) / FIG_W


def py(y):
    return min(1.0, 1 - (y - PAGE_PAD) / FIG_H)


def expand(grid, values, scale=1.0):
    start, step = grid
    return [start + i * step for i in range(len(values))], [v * scale for v in values]


def unzip(points):
    return [p[0] for p in points], [p[1] for p in points]


def spikes(spec, drop, recover):
    # peak -> quick drop to the trough -> quick return to the same peak level
    (start, period), values = spec
    pts = []
    for k in range(0, len(values), 2):
        t = start + (k // 2) * period
        peak = values[k]
        pts.append((t, peak))
        if k + 1 < len(values):
            pts.append((t + drop, values[k + 1]))
            pts.append((t + recover, peak))
    return pts


real_blocks = [
    (night0_grid, night0_real), (day1_grid, day1_real), (day1_extra_grid, day1_extra),
    (night1_grid, night1_real), (day2_grid, day2_real), (day2_extra_grid, day2_extra),
    (night2_grid, night2_real), (day3_grid, day3_real), (day3_extra_grid, day3_extra),
    (night3_grid, night3_real), (day4_grid, day4_real), (day4_extra_grid, day4_extra),
    (night4_grid, night4_real), (day5_grid, day5_real), (day5_extra_grid, day5_extra),
]
real_t, real_y = [], []
for grid, vals in real_blocks:
    t, y = expand(grid, vals, 1e-3)
    real_t += t
    real_y += y

model_t, model_y = unzip(model_day1 + model_day2 + model_day3 + model_day4 + model_day5)

ph_points = list(ph_slow)
for spec in [ph_teeth_day1, ph_teeth_day1b, ph_teeth_day2, ph_teeth_day3, ph_teeth_day4, ph_teeth_day5]:
    ph_points += spikes(spec, ph_drop_minutes, ph_recover_minutes)
ph_points.sort()
ph_t, ph_y = unzip(ph_points)
rad_t, rad_y = unzip(radiation)
do_t, do_y = unzip(dissolved_oxygen)
temp_t, temp_y = unzip(temperature)


def axis(**kw):
    base = dict(
        showline=True, linecolor=AXIS_GRAY, linewidth=1, mirror="ticks",
        ticks="inside", ticklen=5, tickcolor=AXIS_GRAY, showgrid=False,
        zeroline=False, tickfont=dict(size=14, color=TEXT, family=FONT),
    )
    base.update(kw)
    return base


def title(text, standoff):
    return dict(text=text, standoff=standoff, font=dict(size=15.5, color=TEXT, family=FONT))


fig = go.Figure()

fig.add_trace(go.Scatter(
    x=real_t, y=real_y, mode="markers", name="Real data",
    marker=dict(color=BLUE, size=4), xaxis="x", yaxis="y",
))
fig.add_trace(go.Scatter(
    x=model_t, y=model_y, mode="lines",
    name="Full model microalgae-bacteria (Light,Tª,pH,DO,N,P)",
    line=dict(color="black", width=1), xaxis="x", yaxis="y",
))

lower_series = [(rad_t, rad_y, 1), (ph_t, ph_y, 0.8), (do_t, do_y, 1), (temp_t, temp_y, 1)]
for i, (t, y, w) in enumerate(lower_series, start=2):
    fig.add_trace(go.Scatter(
        x=t, y=y, mode="lines", line=dict(color=BLUE, width=w),
        showlegend=False, xaxis=f"x{i}", yaxis=f"y{i}",
    ))

dom_a = [px(70), px(761)]
dom_b = [px(72), px(756)]

fig.update_layout(
    width=FIG_W, height=FIG_H, autosize=False,
    margin=dict(l=0, r=0, t=0, b=0),
    paper_bgcolor="white", plot_bgcolor="white",
    font=dict(family=FONT, color=TEXT),
    xaxis=axis(domain=dom_a, anchor="y", range=[0, 7000], tickvals=time_ticks,
               ticklabelstandoff=5, title=title("Time (min)", 2)),
    yaxis=axis(domain=[py(489), py(8)], anchor="x", range=[-0.1505, 0.4419],
               tickvals=oxygen_ticks, ticktext=oxygen_labels, ticklabelstandoff=8,
               title=title("Oxygen production (mgO2/Lmin)", 6)),
    xaxis2=axis(domain=dom_b, anchor="y2", range=[0, 7000], tickvals=time_ticks,
                ticklabelstandoff=7),
    yaxis2=axis(domain=[py(697), py(594)], anchor="x2", range=[0, 1005],
                tickvals=[0, 500, 1000], ticklabelstandoff=5,
                title=title("Radiation (W/m<sup>2</sup>)", 9)),
    xaxis3=axis(domain=dom_b, anchor="y3", range=[0, 7000], tickvals=time_ticks,
                ticklabelstandoff=7),
    yaxis3=axis(domain=[py(843), py(739)], anchor="x3", range=[7, 8.07],
                tickvals=[7, 7.5, 8], ticklabelstandoff=5, title=title("pH", 2)),
    xaxis4=axis(domain=dom_b, anchor="y4", range=[0, 7000], tickvals=time_ticks,
                ticklabelstandoff=7),
    yaxis4=axis(domain=[py(988), py(884)], anchor="x4", range=[0, 217],
                tickvals=[0, 100, 200], ticklabelstandoff=5,
                title=title("Dissolved oxygen (%)", 1)),
    xaxis5=axis(domain=dom_b, anchor="y5", range=[0, 7000], tickvals=time_ticks,
                ticklabelstandoff=7, title=title("Time (min)", 2)),
    yaxis5=axis(domain=[py(1133), py(1029)], anchor="x5", range=[16.6, 30.1],
                tickvals=[20, 25, 30], ticklabelstandoff=5,
                title=title("Temperature (°C)", 2)),
    legend=dict(
        x=px(762), y=1 - (4 - PAGE_PAD) / FIG_H, xanchor="right", yanchor="top",
        bgcolor="white", bordercolor="#9a9a9a", borderwidth=1,
        font=dict(size=14, color=TEXT, family=FONT), tracegroupgap=0,
    ),
    annotations=[
        dict(text="<b>A</b>", x=px(14), y=py(15), xref="paper", yref="paper",
             xanchor="center", yanchor="middle", showarrow=False,
             font=dict(size=19, color="black", family=FONT)),
        dict(text="<b>B</b>", x=px(14), y=py(555), xref="paper", yref="paper",
             xanchor="center", yanchor="middle", showarrow=False,
             font=dict(size=19, color="black", family=FONT)),
    ],
)

fig.write_html("out.html", config={"displayModeBar": False})
